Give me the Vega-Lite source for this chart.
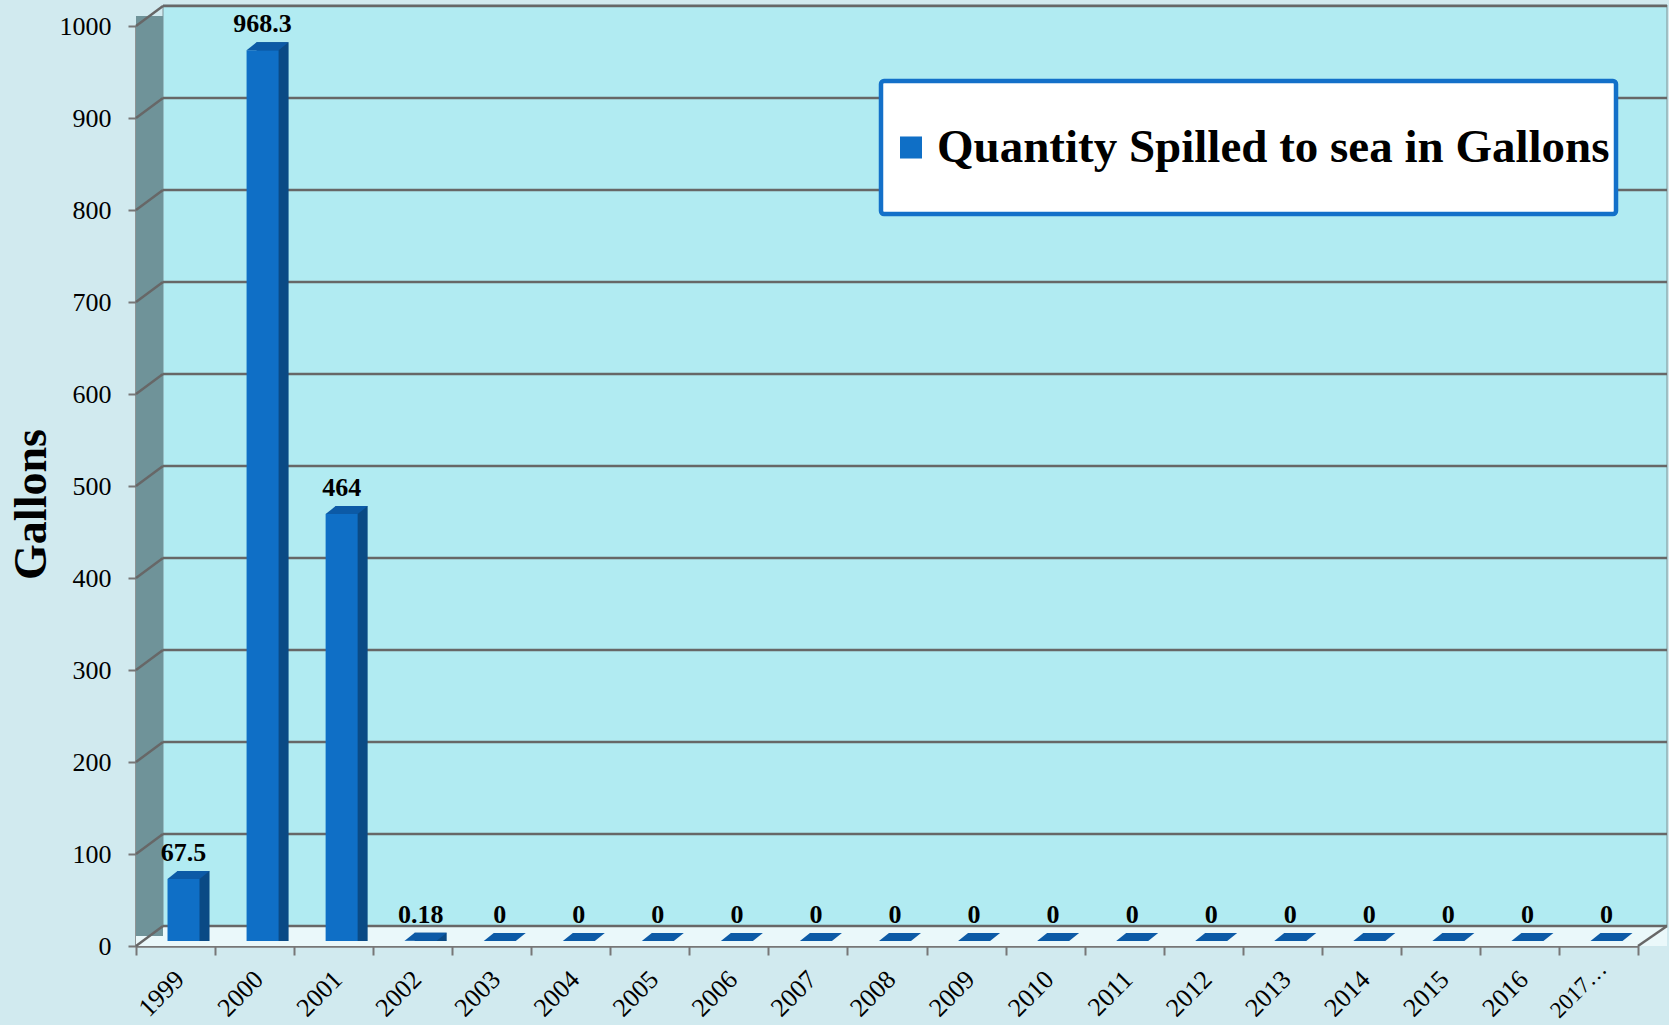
{
  "$schema": "https://vega.github.io/schema/vega-lite/v6.json",
  "width": 1502,
  "height": 920,
  "autosize": {"type": "none"},
  "padding": {"left": 136, "top": 26, "right": 31, "bottom": 79},
  "background": "#d1eaef",
  "config": {
    "view": {"stroke": null},
    "font": "Liberation Serif",
    "legend": {"strokeWidth": 4.5},
    "axis": {"grid": false, "domainColor": "#777777", "domainWidth": 2.5, "tickColor": "#777777", "tickWidth": 2, "labelFont": "Liberation Serif", "labelColor": "#000000"},
    "axisX": {"tickBand": "extent", "tickSize": 9, "labelAngle": -45, "labelAlign": "right", "labelBaseline": "middle", "labelOffset": 4},
    "axisY": {"tickCount": 10, "tickSize": 8, "labelFontSize": 26, "labelPadding": 17, "titleFont": "Liberation Serif", "titleFontSize": 46, "titleFontWeight": "bold", "titleColor": "#000000", "titlePadding": 4, "titleY": 478}
  },
  "datasets": {
    "spill": [
      {"year": "1999", "value": 67.5},
      {"year": "2000", "value": 968.3},
      {"year": "2001", "value": 464},
      {"year": "2002", "value": 0.18},
      {"year": "2003", "value": 0},
      {"year": "2004", "value": 0},
      {"year": "2005", "value": 0},
      {"year": "2006", "value": 0},
      {"year": "2007", "value": 0},
      {"year": "2008", "value": 0},
      {"year": "2009", "value": 0},
      {"year": "2010", "value": 0},
      {"year": "2011", "value": 0},
      {"year": "2012", "value": 0},
      {"year": "2013", "value": 0},
      {"year": "2014", "value": 0},
      {"year": "2015", "value": 0},
      {"year": "2016", "value": 0},
      {"year": "2017…", "value": 0}
    ],
    "grid": [
      {"g": 0}, {"g": 100}, {"g": 200}, {"g": 300}, {"g": 400}, {"g": 500},
      {"g": 600}, {"g": 700}, {"g": 800}, {"g": 900}, {"g": 1000}
    ],
    "frame": [{"lo": 0, "hi": 1000}]
  },
  "layer": [
    {
      "data": {"name": "frame"},
      "mark": {"type": "rect", "fill": "#b1ebf2", "stroke": "#7d9297", "strokeWidth": 1, "xOffset": 27, "x2Offset": 29, "yOffset": -21, "y2Offset": -20},
      "encoding": {
        "x": {"value": 0},
        "x2": {"value": "width"},
        "y": {"field": "hi", "type": "quantitative", "title": "Gallons", "scale": {"domain": [0, 1000], "nice": false}},
        "y2": {"field": "lo"}
      }
    },
    {
      "data": {"name": "frame"},
      "mark": {"type": "rect", "fill": "#eaf8fa", "x2Offset": 29, "y2Offset": -20},
      "encoding": {
        "x": {"value": 0},
        "x2": {"value": "width"},
        "y": {"field": "lo", "type": "quantitative", "title": "Gallons"},
        "y2": {"field": "lo"}
      }
    },
    {
      "data": {"name": "frame"},
      "mark": {"type": "rect", "fill": "#6f9399", "yOffset": -10, "y2Offset": -10},
      "encoding": {
        "x": {"value": 0},
        "x2": {"value": 27},
        "y": {"field": "hi", "type": "quantitative", "title": "Gallons"},
        "y2": {"field": "lo"}
      }
    },
    {
      "data": {"name": "grid"},
      "mark": {"type": "rule", "color": "#676767", "strokeWidth": 2.5, "xOffset": 27, "x2Offset": 29, "yOffset": -20},
      "encoding": {
        "x": {"value": 0},
        "x2": {"value": "width"},
        "y": {"field": "g", "type": "quantitative", "title": "Gallons"}
      }
    },
    {
      "data": {"name": "grid"},
      "mark": {"type": "rule", "color": "#676767", "strokeWidth": 2.5, "y2Offset": -20},
      "encoding": {
        "x": {"value": 0},
        "x2": {"value": 27},
        "y": {"field": "g", "type": "quantitative", "title": "Gallons"},
        "y2": {"field": "g"}
      }
    },
    {
      "data": {"name": "frame"},
      "mark": {"type": "rule", "color": "#676767", "strokeWidth": 2.5, "x2Offset": 29, "y2Offset": -20},
      "encoding": {
        "x": {"value": "width"},
        "x2": {"value": "width"},
        "y": {"field": "lo", "type": "quantitative", "title": "Gallons"},
        "y2": {"field": "lo"}
      }
    },
    {
      "data": {"name": "spill"},
      "transform": [{"filter": "datum.value > 0"}],
      "mark": {"type": "bar", "color": "#0a4a85", "width": {"band": 0.405}, "xOffset": 18, "yOffset": -13, "y2Offset": -5},
      "encoding": {
        "x": {"field": "year", "type": "nominal", "sort": null, "title": null},
        "y": {"field": "value", "type": "quantitative", "title": "Gallons"},
        "y2": {"datum": 0}
      }
    },
    {
      "data": {"name": "spill"},
      "mark": {"type": "bar", "width": {"band": 0.405}, "xOffset": 8, "yOffset": -5, "y2Offset": -5},
      "encoding": {
        "x": {
          "field": "year", "type": "nominal", "sort": null, "title": null,
          "scale": {"paddingInner": 0, "paddingOuter": 0},
          "axis": {
            "labelFontSize": {"condition": {"test": "indexof(datum.label, '…') >= 0", "value": 23}, "value": 26},
            "labelPadding": {"condition": {"test": "indexof(datum.label, '…') >= 0", "value": 10}, "value": 20}
          }
        },
        "y": {
          "field": "value", "type": "quantitative", "title": "Gallons",
          "scale": {"domain": [0, 1000], "nice": false},
          "axis": {"format": "d"}
        },
        "y2": {"datum": 0},
        "color": {
          "datum": "Quantity Spilled to sea in Gallons",
          "type": "nominal",
          "scale": {"range": ["#0f6fc6"]},
          "legend": {
            "orient": "none", "legendX": 745, "legendY": 55, "title": null,
            "padding": 6, "fillColor": "#ffffff", "strokeColor": "#1370c9", "cornerRadius": 3,
            "symbolType": "M-1,-1M-1,1M-0.785,-0.182H-0.421V0.182H-0.785Z", "symbolSize": 14641, "symbolStrokeWidth": 0, "symbolOpacity": 1,
            "labelFont": "Liberation Serif", "labelFontSize": 47, "labelFontWeight": "bold", "labelColor": "#000000",
            "labelOffset": -71, "labelLimit": 2000
          }
        }
      }
    },
    {
      "data": {"name": "spill"},
      "mark": {"type": "point", "shape": "M-16,0L-6,-8L26,-8L16,0Z", "size": 4, "filled": true, "opacity": 1, "color": "#0c5aa6", "strokeWidth": 0, "xOffset": 8, "yOffset": -5},
      "encoding": {
        "x": {"field": "year", "type": "nominal", "sort": null, "title": null},
        "y": {"field": "value", "type": "quantitative", "title": "Gallons"}
      }
    },
    {
      "data": {"name": "spill"},
      "mark": {"type": "text", "font": "Liberation Serif", "fontSize": 26, "fontWeight": "bold", "color": "#000000", "baseline": "alphabetic", "align": "center", "xOffset": 8, "yOffset": -5, "dy": -18},
      "encoding": {
        "x": {"field": "year", "type": "nominal", "sort": null, "title": null},
        "y": {"field": "value", "type": "quantitative", "title": "Gallons"},
        "text": {"field": "value", "type": "quantitative", "format": ""}
      }
    }
  ]
}
